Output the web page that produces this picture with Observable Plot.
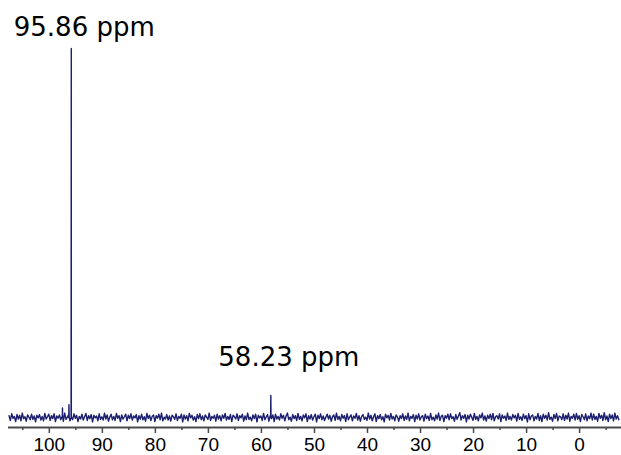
<!DOCTYPE html>
<html><head><meta charset="utf-8">
<script src="https://cdn.jsdelivr.net/npm/d3@7"></script>
<script src="https://cdn.jsdelivr.net/npm/@observablehq/plot@0.6"></script>
<style>
body{margin:0;background:#fff;}
#chart svg{display:block;}
</style>
</head><body><div id="chart"></div>
<script>
// Baseline noise, read by eye, every 0.25 ppm from 107.6 down to -7.4
const noiseStart = 107.6, noiseStep = 0.25;
const noise = [
0.5,-0.8,1.0,-0.2,0.3,-1.1,0.8,-0.4,0.6,-0.9,1.2,-0.3,0.2,-1.0,0.7,0.1,-0.6,0.9,-0.5,0.4,
-1.2,0.6,-0.1,0.8,-0.7,0.3,-0.9,1.1,-0.4,0.2,0.9,-0.8,0.5,-0.3,1.0,-1.1,0.4,-0.2,0.7,-0.6,
0.3,-1.0,1.2,-0.5,0.1,0.8,-0.9,0.4,-0.6,1.0,-0.2,0.6,-1.1,0.3,-0.4,0.9,-0.7,0.2,1.1,-0.8,
0.5,-0.3,0.8,-1.2,0.6,-0.1,0.4,-0.9,1.0,-0.5,0.2,-0.7,1.2,-0.4,0.7,-1.0,0.1,0.9,-0.6,0.3,
-0.8,1.1,-0.2,0.5,-1.1,0.7,-0.4,0.2,0.9,-0.9,0.6,-0.3,1.0,-0.7,0.4,-0.1,0.8,-1.2,0.5,-0.5,
0.9,-0.6,0.2,-1.0,1.1,-0.3,0.6,-0.8,0.3,0.7,-1.1,0.5,-0.2,0.9,-0.6,1.2,-0.9,0.1,-0.4,0.8,
-0.7,0.4,-1.0,0.6,0.2,-0.5,1.0,-0.8,0.3,-0.2,0.9,-1.2,0.7,-0.4,0.5,-0.9,1.1,-0.1,0.6,-0.7,
0.2,-1.1,0.8,-0.3,1.0,-0.6,0.4,-0.9,0.7,0.1,-0.5,1.2,-0.8,0.3,-0.2,0.6,-1.0,0.9,-0.4,0.5,
-0.9,0.7,-0.2,1.1,-0.7,0.3,-0.5,0.8,-1.1,0.6,0.2,-0.4,1.0,-0.8,0.5,-0.1,0.9,-1.0,0.4,-0.6,
1.2,-0.5,0.1,-0.9,0.7,-0.3,0.9,-1.2,0.6,-0.1,0.4,-0.8,1.1,-0.6,0.2,0.8,-1.0,0.5,-0.3,0.7,
-1.1,0.9,-0.4,0.3,-0.7,1.0,-0.2,0.6,-0.9,0.4,1.2,-0.6,0.1,-1.0,0.8,-0.3,0.5,-0.8,1.1,-0.5,
0.3,-0.9,0.7,-0.1,1.0,-1.1,0.5,-0.4,0.8,-0.7,0.2,0.9,-1.2,0.6,-0.3,1.0,-0.6,0.4,-0.8,0.1,
0.9,-0.4,0.6,-1.0,0.2,0.7,-0.8,1.2,-0.5,0.3,-0.9,0.8,-0.2,0.5,-1.1,1.0,-0.6,0.1,0.7,-0.9,
0.4,-0.2,1.1,-0.7,0.5,-1.0,0.3,0.8,-0.5,0.1,-0.8,1.2,-0.4,0.6,-0.9,0.2,1.0,-1.1,0.5,-0.3,
0.8,-0.6,0.2,-1.2,0.9,-0.1,0.6,-0.7,1.1,-0.4,0.3,-0.9,0.7,0.1,-1.0,0.5,-0.3,1.0,-0.8,0.4,
-0.5,1.2,-0.9,0.3,-0.2,0.8,-1.1,0.6,-0.4,1.0,-0.7,0.2,0.5,-1.0,0.9,-0.3,0.4,-0.8,1.1,-0.6,
0.1,-0.9,0.7,-0.4,1.2,-0.8,0.3,0.6,-1.1,0.5,-0.2,0.9,-0.6,1.0,-0.3,0.2,-1.0,0.8,-0.5,0.4,
1.3,-0.7,0.5,-0.2,0.8,-1.2,0.6,-0.4,0.9,0.1,-0.8,1.1,-0.5,0.3,-0.9,0.7,-0.1,1.2,-0.7,0.4,
-1.0,0.6,-0.3,0.9,-0.6,1.1,-0.9,0.2,0.5,-0.4,1.0,-1.1,0.7,-0.2,0.4,-0.8,1.2,-0.5,0.3,-0.7,
0.8,-0.1,0.6,-1.0,1.1,-0.5,0.2,-0.8,0.9,-0.3,0.5,-1.2,1.0,-0.6,0.4,0.7,-0.9,0.3,-0.4,1.1,
-0.8,0.5,-1.1,0.9,-0.2,0.6,-0.7,1.3,-0.5,0.1,-1.0,0.8,-0.3,1.1,-0.9,0.4,0.2,-0.6,1.0,-0.8,
0.6,-0.4,1.2,-1.0,0.3,-0.2,0.9,-0.7,1.1,-0.5,0.5,-1.1,0.8,0.2,-0.6,1.0,-0.9,0.4,-0.3,1.2,
-0.7,0.9,-0.5,0.3,-1.0,1.1,-0.2,0.6,-0.8,1.3,-0.6,0.4,-1.1,0.9,-0.3,0.7,-0.9,1.2,-0.4,0.5,
-0.6
];
// Peaks (ppm, relative intensity)
const peakPpm    = [97.52, 96.30, 95.86, 58.23];
const peakHeight = [2.6,   3.5,   100,   6.0];
// Labelled peaks
const labelPpm   = [95.86, 58.23];
const labelText  = ["95.86 ppm", "58.23 ppm"];
const labelY     = [105.6, 16.2];
const labelDx    = [13, 18];
// Axis ticks
const majorTicks = [100, 90, 80, 70, 60, 50, 40, 30, 20, 10, 0];
const minorTicks = [105, 95, 85, 75, 65, 55, 45, 35, 25, 15, 5, -5];

const xDomain = [107.7, -7.9];
const yDomain = [-2.71, 113.0];

const pts = noise.map((v, i) => ({ppm: +(noiseStart - i * noiseStep).toFixed(2), v}));
peakPpm.forEach((p, i) => {
  pts.push({ppm: p + 0.04, v: 0}, {ppm: p, v: peakHeight[i]}, {ppm: p - 0.04, v: 0});
});
const spectrum = d3.sort(pts, d => -d.ppm);
const labels = labelText.map((t, i) => ({ppm: labelPpm[i], y: labelY[i], t, dx: labelDx[i]}));

const chart = Plot.plot({
  width: 621, height: 455,
  marginLeft: 8, marginRight: 0, marginTop: 0, marginBottom: 28,
  style: {fontFamily: "'Liberation Sans', Arial, sans-serif", color: "#000", background: "#fff"},
  x: {domain: xDomain, axis: null},
  y: {domain: yDomain, axis: null},
  marks: [
    Plot.line(spectrum, {x: "ppm", y: "v", stroke: "#1b1f6e", strokeWidth: 1.4}),
    Plot.ruleY([yDomain[0]], {stroke: "#4a4a4a", strokeWidth: 2}),
    Plot.axisX({ticks: majorTicks, tickSize: 6, tickPadding: 4, fontSize: 19, stroke: "#4a4a4a", strokeWidth: 1.5, fill: "#000", label: null, tickFormat: d => String(d)}),
    Plot.axisX({ticks: minorTicks, tickSize: 3, stroke: "#4a4a4a", strokeWidth: 1.5, tickFormat: () => "", label: null}),
    ...labels.map(l => Plot.text([l], {x: "ppm", y: "y", text: "t", dx: l.dx, fontSize: 26, fontFamily: "'DejaVu Sans', sans-serif", fill: "#000"}))
  ]
});
document.getElementById("chart").append(chart);
</script>
</body></html>
